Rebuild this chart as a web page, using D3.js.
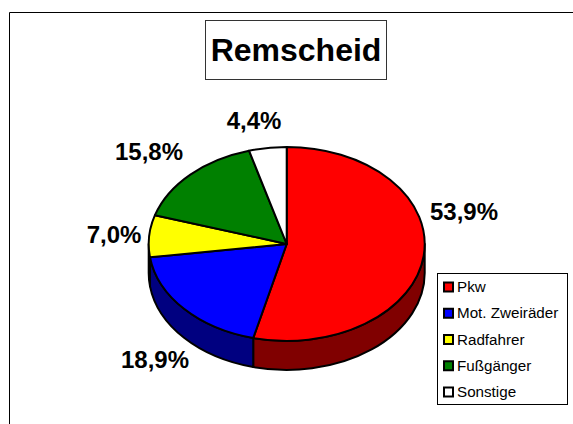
<!DOCTYPE html>
<html><head><meta charset="utf-8"><script src="https://cdn.jsdelivr.net/npm/d3@7"></script>
<style>html,body{margin:0;background:#fff;overflow:hidden}svg{display:block}text{font-family:"Liberation Sans",Arial,sans-serif;fill:#000}</style></head>
<body><svg id="c" width="573" height="424"></svg>
<script>
const categories = ["Pkw","Mot. Zweiräder","Radfahrer","Fußgänger","Sonstige"];
const values = [53.9,18.9,7.0,15.8,4.4];
const valueLabels = ["53,9%","18,9%","7,0%","15,8%","4,4%"];
const colors = ["#ff0000","#0000ff","#ffff00","#008000","#ffffff"];
const sideColors = ["#800000","#000080","#808000","#004000","#808080"];
const labelPos = [[464,211],[155,359],[114,234],[149,151],[254,120]];
const title = "Remscheid";

const svg = d3.select("#c");
svg.append("path").attr("d","M9.5,424V12.5H573").attr("fill","none").attr("stroke","#000").attr("stroke-width",1);

const cx=286.7, cy=244, rx=138, ry=97, depth=29;
const arcs = d3.pie().sort(null).value(d=>d)(values);
const pt=(a,y0)=>[cx+rx*Math.sin(a), y0-ry*Math.cos(a)];
const sw=2;
arcs.forEach((d,i)=>{
  if(d.endAngle<=Math.PI/2||d.startAngle>=1.5*Math.PI) return;
  const a0=Math.max(d.startAngle,Math.PI/2), a1=Math.min(d.endAngle,1.5*Math.PI);
  const [x0,y0]=pt(a0,cy),[x1,y1]=pt(a1,cy);
  svg.append("path").attr("d",`M${x0},${y0}A${rx},${ry} 0 0 1 ${x1},${y1}L${x1},${y1+depth}A${rx},${ry} 0 0 0 ${x0},${y0+depth}Z`)
    .attr("fill",sideColors[i]).attr("stroke","#000").attr("stroke-width",sw).attr("stroke-linejoin","round");
});
const pieTop=svg.append("g");
arcs.forEach((d,i)=>{
  const [x0,y0]=pt(d.startAngle,cy),[x1,y1]=pt(d.endAngle,cy);
  const large=d.endAngle-d.startAngle>Math.PI?1:0;
  pieTop.append("path").attr("d",`M${cx},${cy}L${x0},${y0}A${rx},${ry} 0 ${large} 1 ${x1},${y1}Z`)
    .attr("fill",colors[i]).attr("stroke","#000").attr("stroke-width",sw).attr("stroke-linejoin","round");
});
valueLabels.forEach((t,i)=>{
  svg.append("text").attr("x",labelPos[i][0]).attr("y",labelPos[i][1]+8.5).attr("text-anchor","middle")
    .attr("font-size",24).attr("font-weight","bold").text(t);
});
svg.append("rect").attr("x",205.5).attr("y",20.5).attr("width",181).attr("height",59).attr("fill","#fff").attr("stroke","#333").attr("stroke-width",1);
svg.append("text").attr("x",296).attr("y",61).attr("text-anchor","middle").attr("font-size",32).attr("font-weight","bold").text(title);
svg.append("rect").attr("x",437.5).attr("y",273.5).attr("width",130).attr("height",131).attr("fill","#fff").attr("stroke","#000").attr("stroke-width",1);
const ly=d3.scalePoint().domain(categories).range([287,392]);
categories.forEach((c,i)=>{
  const y=ly(c);
  svg.append("rect").attr("x",444).attr("y",y-4.5).attr("width",9).attr("height",9).attr("fill",colors[i]).attr("stroke","#000").attr("stroke-width",2);
  svg.append("text").attr("x",457).attr("y",y+5).attr("font-size",15.2).text(c);
});
</script></body></html>
